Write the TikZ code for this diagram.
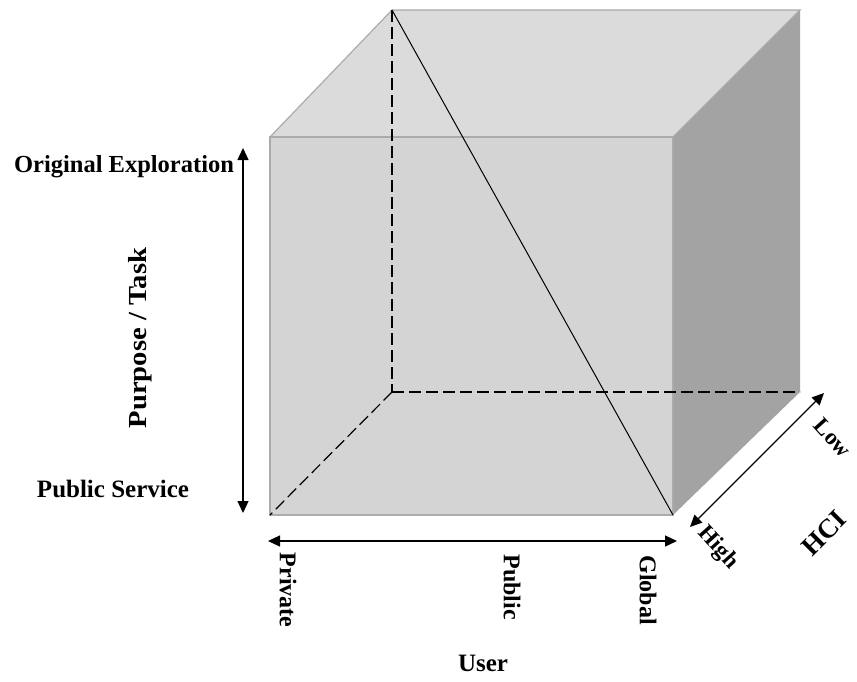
\documentclass[tikz,border=0pt]{standalone}
\usepackage{fontspec}
\usepackage{graphicx}
\setmainfont{Liberation Serif}
\usetikzlibrary{arrows.meta}
\begin{document}
\begin{tikzpicture}[x=1pt,y=-1pt,
  edge/.style={draw=black!33,line width=1.2pt,line join=miter},
  hidden/.style={black,line width=1.2pt,dash pattern=on 12pt off 5pt},
  axis/.style={black,line width=1.3pt,{Triangle[length=12pt,width=11pt]}-{Triangle[length=12pt,width=11pt]}},
  lbl/.style={font=\fontsize{25}{27}\selectfont\bfseries,inner sep=0pt},
  vlbl/.style={font=\fontsize{24}{26}\selectfont\bfseries,inner sep=0pt,rotate=-90},
  dlbl/.style={font=\fontsize{23}{25}\selectfont\bfseries,inner sep=0pt,rotate=-48}]
\useasboundingbox (0,0) rectangle (857,681);
% cube corners: front face and back face
\coordinate (FTL) at (270,137);
\coordinate (FTR) at (673,137);
\coordinate (FBR) at (673,515);
\coordinate (FBL) at (270,515);
\coordinate (BTL) at (392,10);
\coordinate (BTR) at (800,10);
\coordinate (BBR) at (800,392);
\coordinate (BBL) at (392,392);
% faces
\fill[black!14] (FTL) -- (BTL) -- (BTR) -- (FTR) -- cycle;
\fill[black!36] (FTR) -- (BTR) -- (BBR) -- (FBR) -- cycle;
\fill[black!17] (FTL) rectangle (FBR);
\draw[edge] (FTL) -- (BTL) -- (BTR) -- (FTR);
\draw[edge] (FTL) rectangle (FBR);
% hidden edges
\draw[hidden] (BTL) -- (BBL);
\draw[hidden] (BBL) -- (BBR);
\draw[hidden] (BBL) -- (FBL);
% diagonal
\draw[black,line width=1pt] (BTL) -- (FBR);
% axes
\coordinate (PT) at (243,148);
\coordinate (PB) at (243,513);
\draw[axis] (PT) -- (PB);
\coordinate (UL) at (268,541);
\coordinate (UR) at (677,541);
\draw[axis] (UL) -- (UR);
\coordinate (HH) at (690,527);
\coordinate (HL) at (824,393);
\draw[axis] (HH) -- (HL);
% labels
\node[lbl,font=\fontsize{24.5}{27}\selectfont\bfseries] (orig) at (124,167) {Original Exploration};
\node[lbl] (pserv) at (113,489) {Public Service};
\node[lbl,font=\fontsize{26}{28}\selectfont\bfseries,rotate=90] (purp) at (140,338) {\scalebox{1.1}[1]{Purpose / Task}};
\node[vlbl] (priv) at (288,590) {Private};
\node[vlbl] (publ) at (512,587) {Public};
\node[vlbl] (glob) at (648,590) {Global};
\node[lbl] (user) at (483,663) {User};
\node[dlbl] (high) at (718,548) {High};
\node[dlbl] (low) at (833,438) {Low};
\node[lbl,font=\fontsize{27}{29}\selectfont\bfseries,rotate=45] (hci) at (824,533) {HCI};
\end{tikzpicture}
\end{document}
